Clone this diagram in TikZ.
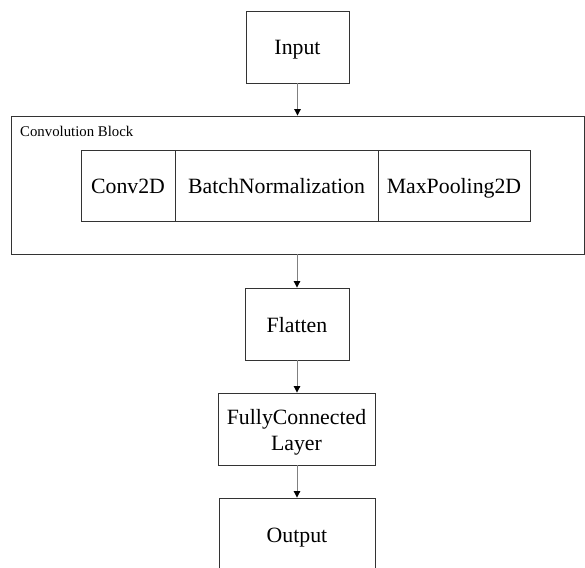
\documentclass[tikz,border=0pt]{standalone}
\usepackage{fontspec}
\setmainfont{Liberation Serif}
\usetikzlibrary{arrows.meta}
\definecolor{edge}{HTML}{333333}
\definecolor{conn}{HTML}{808080}
\tikzset{
  boxfont/.style={font=\fontsize{21.8}{25}\selectfont},
  box/.style={draw=edge, line width=0.9pt, minimum height=72pt, inner sep=0pt, align=center, boxfont},
  oneline/.style={text height=16pt, text depth=0pt},
  conn/.style={draw=conn, line width=1pt, -{Triangle[width=6.5pt,length=6.5pt,color=black]}},
}
\begin{document}
\begin{tikzpicture}[x=1pt,y=-1pt]
\useasboundingbox (0,0) rectangle (585,567);
\clip (0,0) rectangle (585,567);
\fill[white] (0,0) rectangle (585,567);
\node[box, oneline, minimum width=103pt] (in) at (297.5,47) {Input};
\node[draw=edge, line width=0.9pt, minimum width=573pt, minimum height=138pt, inner sep=0pt] (block) at (297.5,185) {};
\node[anchor=west, inner sep=0pt, font=\fontsize{14.8}{17}\selectfont] (blabel) at (20,131) {Convolution Block};
\node[box, oneline, minimum width=94pt, minimum height=71pt] (conv) at (128,185.5) {Conv2D};
\node[box, oneline, minimum width=203pt, minimum height=71pt] (bn) at (276.5,185.5) {BatchNormalization};
\node[box, oneline, minimum width=152pt, minimum height=71pt] (mp) at (454,185.5) {MaxPooling2D};
\node[box, oneline, minimum width=104pt] (fl) at (297,324) {Flatten};
\node[box, minimum width=157pt, label={[boxfont, align=center, inner sep=0pt, yshift=-3.5pt]center:FullyConnected\\[1pt]Layer}] (fc) at (296.5,429) {};
\node[box, oneline, minimum width=156pt] (out) at (297,534) {Output};
\draw[conn] (in.south) -- (in.south |- block.north);
\draw[conn] (fl.north |- block.south) -- (fl.north);
\draw[conn] (fl.south) -- (fl.south |- fc.north);
\draw[conn] (fl.south |- fc.south) -- (fl.south |- out.north);
\end{tikzpicture}
\end{document}
